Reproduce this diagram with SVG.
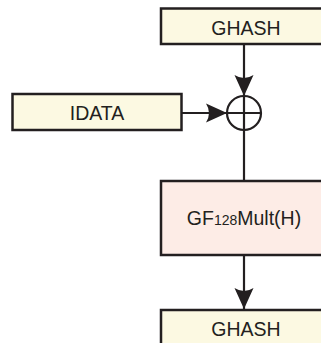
<svg xmlns="http://www.w3.org/2000/svg" width="321" height="343" viewBox="0 0 321 343">
<style>
.box{stroke:#231f20;stroke-width:2.5}
.y{fill:#fcf9e2}
.p{fill:#fdece6}
.t{font-family:"Liberation Sans",Arial,sans-serif;font-size:19.5px;fill:#231f20;text-anchor:middle}
.ln{stroke:#231f20;stroke-width:2.2;fill:none}
</style>
<defs>
<marker id="ah" markerUnits="userSpaceOnUse" markerWidth="24" markerHeight="22" viewBox="-22 -11 24 22" refX="0" refY="0" orient="auto">
<path d="M0,0 L-21,-9.5 Q-15,0 -21,9.5 Z" fill="#231f20"/>
</marker>
</defs>
<g id="connectors">
<line class="ln" x1="244" y1="45" x2="244" y2="96" marker-end="url(#ah)"/>
<line class="ln" x1="182" y1="113" x2="227" y2="113" marker-end="url(#ah)"/>
<line class="ln" x1="244" y1="130" x2="244" y2="180"/>
<line class="ln" x1="244" y1="256" x2="244" y2="309" marker-end="url(#ah)"/>
</g>
<g id="ghash-top">
<rect class="box y" x="161" y="8.5" width="170" height="35.5"/>
<text class="t" x="246" y="35">GHASH</text>
</g>
<g id="idata">
<rect class="box y" x="12.5" y="94" width="169" height="36"/>
<text class="t" x="97" y="119.5">IDATA</text>
</g>
<g id="xor">
<circle class="ln" cx="244" cy="113" r="17"/>
<line class="ln" x1="227" y1="113" x2="261" y2="113"/>
<line class="ln" x1="244" y1="96" x2="244" y2="130"/>
</g>
<g id="gfmult">
<rect class="box p" x="161" y="181" width="170" height="74"/>
<text class="t" x="244" y="225">GF<tspan font-size="14px">128</tspan>Mult(H)</text>
</g>
<g id="ghash-bottom">
<rect class="box y" x="161" y="310" width="170" height="40"/>
<text class="t" x="246" y="336">GHASH</text>
</g>
</svg>
